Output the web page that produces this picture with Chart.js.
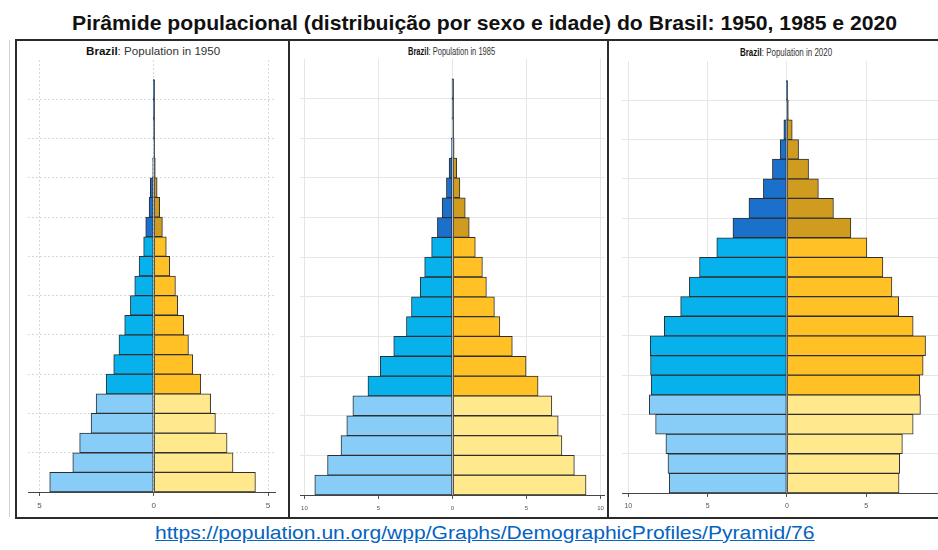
<!DOCTYPE html>
<html>
<head>
<meta charset="utf-8">
<script src="https://cdn.jsdelivr.net/npm/chart.js@4.4.1/dist/chart.umd.min.js"></script>
<style>
  html, body { margin: 0; padding: 0; background: #fff; }
  body { width: 938px; height: 550px; position: relative; overflow: hidden; font-family: 'Liberation Sans', Arial, sans-serif; }
  .fit { position: absolute; white-space: nowrap; transform-origin: 0 50%; line-height: 1.2; }
  #mainTitle { font-size: 21px; font-weight: bold; color: #111; }
  #source { font-size: 19px; color: #0563c1; text-decoration: underline; }
  .sub { color: #333; }
  .sub b { color: #111; }
  .panel { position: absolute; box-sizing: border-box; border: 2px solid #2b2b2b; }
  .plot { position: absolute; }
</style>
</head>
<body>
<div id="mainTitle" class="fit">Pirâmide populacional (distribuição por sexo e idade) do Brasil: 1950, 1985 e 2020</div>

<div style="position:absolute; left:9px; top:40px; width:1px; height:477px; background:#d0d0d0;"></div>
<div class="panel" style="left:15px; top:39px; width:275px; height:480px;"></div>
<div class="panel" style="left:288px; top:39px; width:321px; height:480px;"></div>
<div class="panel" style="left:607px; top:39px; width:340px; height:480px;"></div>

<div id="sub1" class="fit sub" style="font-size:11px;"><b>Brazil</b>: Population in 1950</div>
<div id="sub2" class="fit sub" style="font-size:11px;"><b>Brazil</b>: Population in 1985</div>
<div id="sub3" class="fit sub" style="font-size:11px;"><b>Brazil</b>: Population in 2020</div>

<div class="plot" style="left:28px; top:60px; width:248px; height:452px;"><canvas id="c1950"></canvas></div>
<div class="plot" style="left:300px; top:59px; width:305px; height:456px;"><canvas id="c1985"></canvas></div>
<div class="plot" style="left:622px; top:61px; width:330px; height:452px;"><canvas id="c2020"></canvas></div>

<div id="source" class="fit">https://population.un.org/wpp/Graphs/DemographicProfiles/Pyramid/76</div>

<script>
// age groups, bottom to top
const ageGroups = ['0-4', '5-9', '10-14', '15-19', '20-24', '25-29', '30-34', '35-39', '40-44', '45-49',
    '50-54', '55-59', '60-64', '65-69', '70-74', '75-79', '80-84', '85-89', '90-94', '95-99', '100+'];

// population in millions
const male1950 = [4.55, 3.54, 3.24, 2.74, 2.52, 2.08, 1.75, 1.52, 1.27, 1.02, 0.83, 0.64, 0.44, 0.35, 0.20, 0.15, 0.05, 0.02, 0.01, 0.003, 0.001];
const female1950 = [4.45, 3.47, 3.21, 2.70, 2.49, 2.06, 1.71, 1.52, 1.31, 1.05, 0.95, 0.70, 0.55, 0.38, 0.26, 0.15, 0.07, 0.03, 0.01, 0.003, 0.001];

const male1985 = [9.30, 8.44, 7.53, 7.14, 6.73, 5.71, 4.88, 3.97, 3.11, 2.77, 2.18, 1.88, 1.41, 1.02, 0.70, 0.41, 0.23, 0.08, 0.02, 0.004, 0.001];
const female1985 = [9.02, 8.23, 7.39, 7.14, 6.71, 5.78, 4.97, 4.04, 3.20, 2.83, 2.29, 2.02, 1.54, 1.13, 0.86, 0.50, 0.29, 0.11, 0.03, 0.006, 0.001];

const male2020 = [7.42, 7.50, 7.63, 8.28, 8.68, 8.56, 8.60, 8.62, 7.73, 6.70, 6.15, 5.51, 4.42, 3.40, 2.39, 1.48, 0.91, 0.42, 0.19, 0.04, 0.01];
const female2020 = [7.08, 7.12, 7.29, 7.97, 8.43, 8.39, 8.60, 8.75, 7.97, 7.06, 6.63, 6.06, 5.05, 4.04, 2.94, 1.99, 1.37, 0.74, 0.34, 0.10, 0.02];

// x axis ticks
const ticks1950 = [-5, 0, 5];
const tickLabels1950 = ['5', '0', '5'];
const ticks10 = [-10, -5, 0, 5, 10];
const tickLabels10 = ['10', '5', '0', '5', '10'];

// horizontal grid lines (age)
const gridAges = [10, 20, 30, 40, 50, 60, 70, 80, 90, 100];

const ageStart = ageGroups.map(g => parseInt(g, 10));
const ageTop = ageStart[ageStart.length - 1] + 5;

function bandColors(light, mid, dark) {
    return ageStart.map(a => a < 25 ? light : (a < 65 ? mid : dark));
}
const maleColors = bandColors('#87cdf7', '#07b1eb', '#1b70cc');
const femaleColors = bandColors('#ffe98c', '#ffc125', '#cf9c1f');

const zeroLine = {
    id: 'zeroLine',
    afterDatasetsDraw(chart) {
        const { ctx, scales: { x, y } } = chart;
        const px = Math.round(x.getPixelForValue(0)) + 0.5;
        ctx.save();
        ctx.strokeStyle = '#555';
        ctx.lineWidth = 1;
        ctx.beginPath();
        ctx.moveTo(px, y.getPixelForValue(0));
        ctx.lineTo(px, y.getPixelForValue(ageTop));
        ctx.stroke();
        ctx.restore();
    }
};

function makePyramid(id, males, females, opt) {
    const ctx = document.getElementById(id).getContext('2d');
    return new Chart(ctx, {
        type: 'bar',
        data: {
            datasets: [{
                label: 'Male',
                data: males.map((v, i) => ({ x: -v, y: ageStart[i] + 2.5 })),
                backgroundColor: maleColors
            }, {
                label: 'Female',
                data: females.map((v, i) => ({ x: v, y: ageStart[i] + 2.5 })),
                backgroundColor: femaleColors
            }]
        },
        options: {
            indexAxis: 'y',
            responsive: true,
            maintainAspectRatio: false,
            animation: false,
            datasets: {
                bar: {
                    grouped: false,
                    barPercentage: 1,
                    categoryPercentage: 1,
                    borderWidth: 1,
                    borderColor: '#2e2e2e',
                    borderSkipped: false
                }
            },
            layout: { padding: 0 },
            plugins: { legend: { display: false }, tooltip: { enabled: false } },
            scales: {
                x: {
                    type: 'linear',
                    min: opt.min,
                    max: opt.max,
                    offset: false,
                    afterBuildTicks: s => { s.ticks = opt.ticks.map(v => ({ value: v })); },
                    ticks: {
                        autoSkip: false,
                        maxRotation: 0,
                        color: '#555',
                        padding: opt.labelPad,
                        font: { size: opt.fontSize, family: 'Liberation Sans' },
                        callback: (v, i) => opt.labels[i]
                    },
                    grid: { color: opt.gridColor, tickColor: '#555', tickLength: 4, offset: false },
                    border: { color: '#444', width: 1, dash: opt.dash },
                    afterFit: s => { s.height = 20; s.paddingLeft = 0; s.paddingRight = 0; }
                },
                y: {
                    type: 'linear',
                    min: 0,
                    max: 110,
                    offset: false,
                    afterBuildTicks: s => { s.ticks = gridAges.map(v => ({ value: v })); },
                    ticks: { display: false },
                    grid: { color: opt.gridColor, drawTicks: false, offset: false },
                    border: { display: false, dash: opt.dash },
                    afterFit: s => { s.width = 0; }
                }
            }
        },
        plugins: [zeroLine]
    });
}

makePyramid('c1950', male1950, female1950, {
    min: -5.5, max: 5.35, ticks: ticks1950, labels: tickLabels1950,
    fontSize: 8, labelPad: 5, gridColor: '#d8d8d8', dash: [2, 2]
});
makePyramid('c1985', male1985, female1985, {
    min: -10.3, max: 10.3, ticks: ticks10, labels: tickLabels10,
    fontSize: 6, labelPad: 6, gridColor: '#e6e6e6', dash: []
});
makePyramid('c2020', male2020, female2020, {
    min: -10.4, max: 10.42, ticks: ticks10, labels: tickLabels10,
    fontSize: 7, labelPad: 5, gridColor: '#e6e6e6', dash: []
});

function fitText(id, left, right, cy) {
    const el = document.getElementById(id);
    el.style.transform = 'none';
    const w = el.offsetWidth, h = el.offsetHeight;
    el.style.left = left + 'px';
    el.style.top = (cy - h / 2) + 'px';
    el.style.transform = 'scaleX(' + ((right - left) / w) + ')';
}
function layoutTexts() {
    fitText('mainTitle', 72, 897, 22);
    fitText('sub1', 86, 220, 51);
    fitText('sub2', 408, 495, 51);
    fitText('sub3', 740, 832, 52);
    fitText('source', 155, 815, 533);
}
layoutTexts();
if (document.fonts) document.fonts.ready.then(layoutTexts);
</script>
</body>
</html>
